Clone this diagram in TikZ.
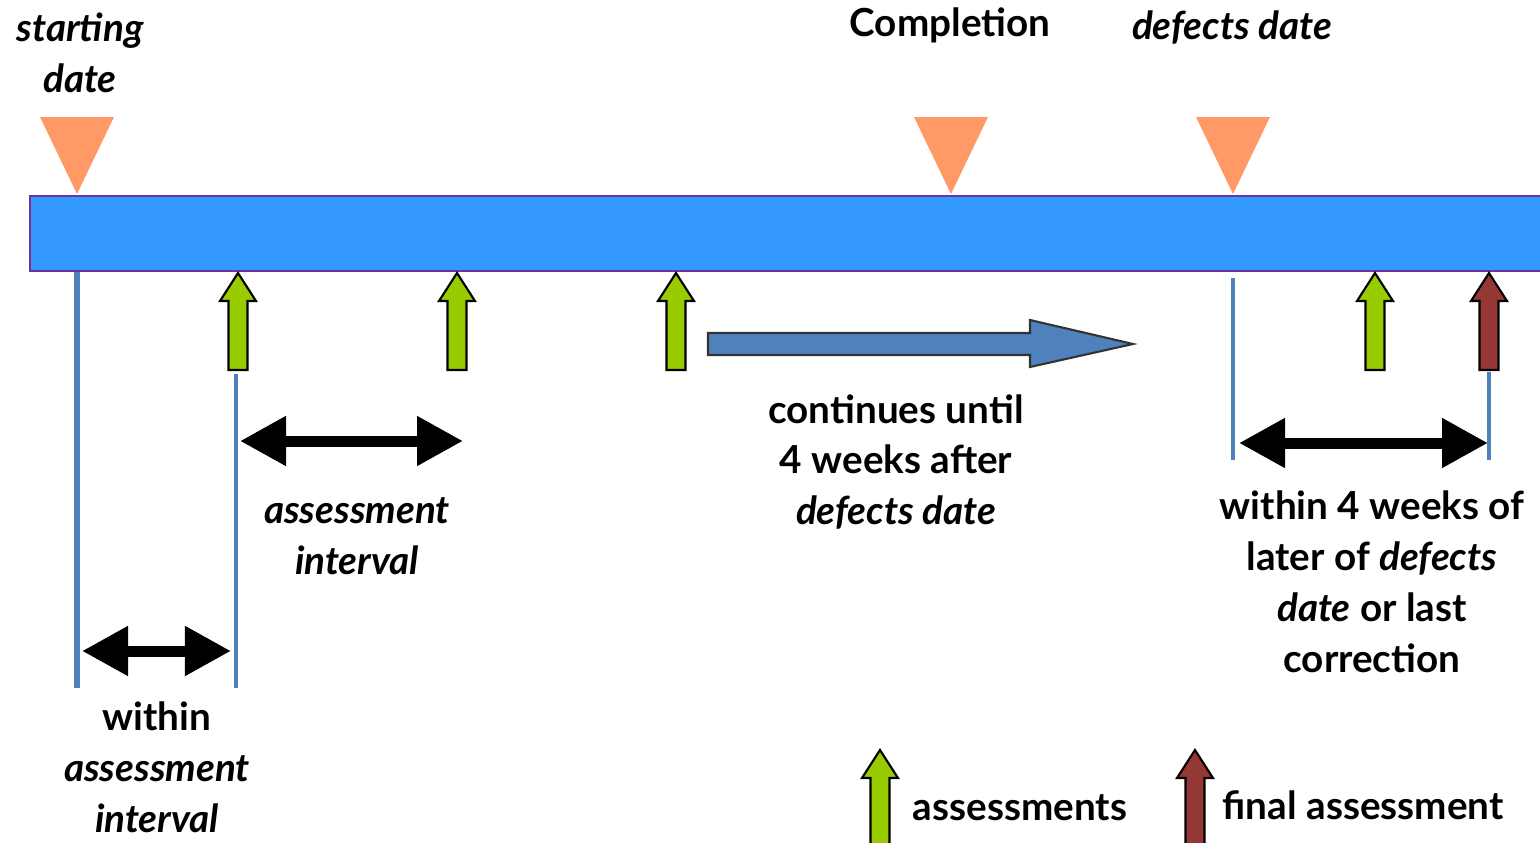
\documentclass[tikz,border=0pt]{standalone}
\usepackage{fontspec}
\setmainfont{Lato}
\usetikzlibrary{positioning, arrows.meta}
\definecolor{barblue}{HTML}{3399FF}
\definecolor{barrim}{HTML}{7030A0}
\definecolor{wedgeorange}{HTML}{FF9966}
\definecolor{lineblue}{HTML}{4F81BD}
\definecolor{grn}{HTML}{99CC00}
\definecolor{finalred}{HTML}{953735}
\tikzset{vline/.style={draw=lineblue, line width=0.9pt}}
\tikzset{dbl/.style={line width=0.11cm, {Triangle[length=0.46cm,width=0.47cm]}-{Triangle[length=0.46cm,width=0.47cm]}}}
\tikzset{txt/.style={align=center, inner sep=0, font=\fontsize{11}{14.5}\selectfont\bfseries}}
\tikzset{itxt/.style={txt, font=\fontsize{11}{14.5}\selectfont\bfseries\itshape}}
\tikzset{wedge/.pic={\fill[wedgeorange] (-0.37,0.77) -- (0.37,0.77) -- (0,0) -- cycle;}}
\tikzset{upblock/.pic={\draw[pic actions, line width=0.6pt] (0,0) -- (0.18,-0.28) -- (0.095,-0.28) -- (0.095,-0.97) -- (-0.095,-0.97) -- (-0.095,-0.28) -- (-0.18,-0.28) -- cycle;}}

\begin{document}
\begin{tikzpicture}
    \useasboundingbox (0,0) rectangle (15.4,-8.43);

    % time bar
    \node[draw=barrim, fill=barblue, line width=0.7pt, minimum width=15.3cm, minimum height=0.75cm, anchor=north west] (bar) at (0.29,-1.95) {};

    % dates on top
    \pic at (0.77,-1.94) {wedge};
    \pic at (9.51,-1.94) {wedge};
    \pic at (12.33,-1.94) {wedge};
    \node[itxt] (start) at (0.80,-0.53) {starting\\date};
    \node[txt] (compl) at (9.50,-0.25) {Completion};
    \node[itxt] (defects) at (12.32,-0.28) {defects date};

    % assessments
    \pic[fill=grn] at (2.38,-2.73) {upblock};
    \pic[fill=grn] at (4.57,-2.73) {upblock};
    \pic[fill=grn] at (6.76,-2.73) {upblock};
    \pic[fill=grn] at (13.75,-2.73) {upblock};
    \pic[fill=finalred] at (14.89,-2.73) {upblock};
    \draw[draw=black!80, fill=lineblue, line width=0.6pt] (7.08,-3.33) -- (10.30,-3.33) -- (10.30,-3.20) -- (11.33,-3.44) -- (10.30,-3.67) -- (10.30,-3.55) -- (7.08,-3.55) -- cycle;

    % interval marks
    \coordinate (s1) at (0.77,-2.72);
    \coordinate (s2) at (0.77,-6.88);
    \coordinate (a1) at (2.36,-3.74);
    \coordinate (a2) at (2.36,-6.88);
    \coordinate (d1) at (12.33,-2.78);
    \coordinate (d2) at (12.33,-4.60);
    \coordinate (f1) at (14.89,-3.72);
    \coordinate (f2) at (14.89,-4.60);
    \draw[vline, line width=1.5pt] (s1) -- (s2);
    \draw[vline] (a1) -- (a2);
    \draw[vline] (d1) -- (d2);
    \draw[vline] (f1) -- (f2);

    \coordinate (w1) at (0.82,-6.51);
    \coordinate (w2) at (2.31,-6.51);
    \coordinate (i1) at (2.40,-4.41);
    \coordinate (i2) at (4.63,-4.41);
    \coordinate (l1) at (12.39,-4.43);
    \coordinate (l2) at (14.88,-4.43);
    \draw[dbl] (w1) -- (w2);
    \draw[dbl] (i1) -- (i2);
    \draw[dbl] (l1) -- (l2);

    \node[itxt] (intv) at (3.57,-5.36) {assessment\\interval};
    \node[txt] (within) at (1.57,-7.67) {within\\\textit{assessment}\\\textit{interval}};
    \node[txt] (cont) at (8.96,-4.62) {continues until\\4 weeks after\\\textit{defects date}};
    \node[txt] (later) at (13.72,-5.82) {within 4 weeks of\\later of \textit{defects}\\\textit{date} or last\\correction};

    % legend
    \pic[fill=grn] at (8.80,-7.50) {upblock};
    \pic[fill=finalred] at (11.95,-7.50) {upblock};
    \node[txt, anchor=west] (lgass) at (9.12,-8.08) {assessments};
    \node[txt, anchor=west] (lgfin) at (12.22,-8.05) {final assessment};
\end{tikzpicture}
\end{document}
